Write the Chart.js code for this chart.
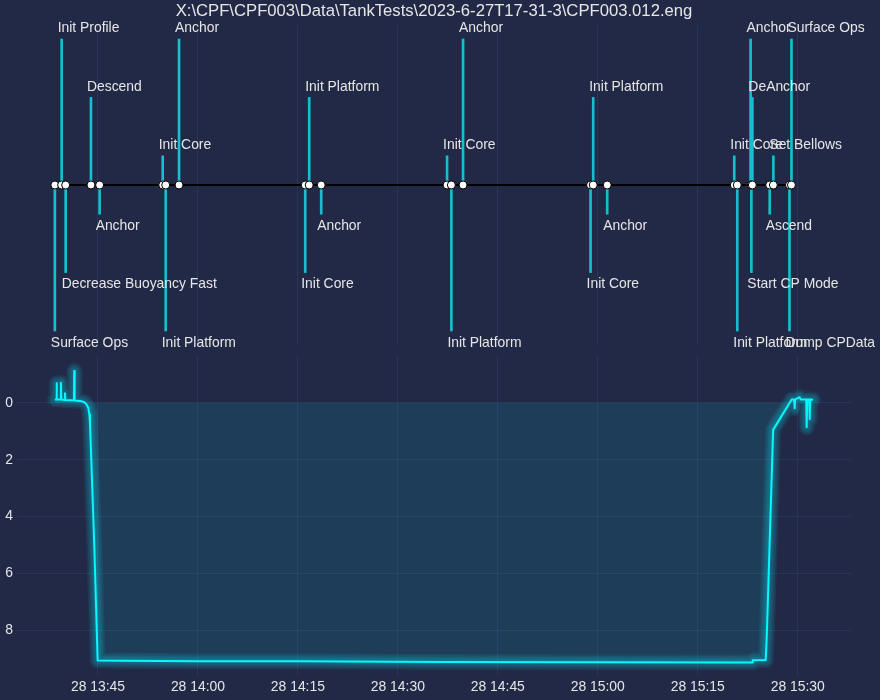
<!DOCTYPE html>
<html>
<head>
<meta charset="utf-8">
<script src="https://cdn.jsdelivr.net/npm/chart.js@4.4.1/dist/chart.umd.min.js"></script>
<style>
  html, body { margin: 0; padding: 0; background: #212946; }
  #wrap { position: relative; width: 880px; height: 700px; }
  canvas { position: absolute; left: 0; }
  #timeline { top: 0; }
  #depth { top: 350px; }
</style>
</head>
<body>
<div id="wrap">
  <canvas id="timeline" width="880" height="350"></canvas>
  <canvas id="depth" width="880" height="350"></canvas>
</div>
<script>
const title = "X:\\CPF\\CPF003\\Data\\TankTests\\2023-6-27T17-31-3\\CPF003.012.eng";
const dayLabel = "28";

// events on the timeline (2023-06-28)
const eventTimes = ["13:38:32", "13:39:33", "13:40:09", "13:43:57", "13:45:15", "13:54:43",
  "13:55:10", "13:57:10", "14:16:06", "14:16:42", "14:18:30", "14:37:23", "14:38:02",
  "14:39:47", "14:58:55", "14:59:19", "15:01:25", "15:20:29", "15:20:56", "15:22:56",
  "15:23:03", "15:23:12", "15:25:48", "15:26:21", "15:28:46", "15:29:04"];
const eventNames = ["Surface Ops", "Init Profile", "Decrease Buoyancy Fast", "Descend", "Anchor",
  "Init Core", "Init Platform", "Anchor", "Init Core", "Init Platform", "Anchor", "Init Core",
  "Init Platform", "Anchor", "Init Core", "Init Platform", "Anchor", "Init Core", "Init Platform",
  "Anchor", "Start CP Mode", "DeAnchor", "Ascend", "Set Bellows", "Dump CPData", "Surface Ops"];
const eventLevels = [-5, 5, -3, 3, -1, 1, -5, 5, -3, 3, -1, 1, -5, 5, -3, 3, -1, 1, -5, 5,
  -3, 3, -1, 1, -5, 5];

// depth record
const depthTimes = ["13:38:32", "13:38:46", "13:38:48", "13:38:50", "13:39:22", "13:39:26",
  "13:39:31", "13:39:58", "13:40:03", "13:40:07", "13:40:48", "13:41:24", "13:41:26",
  "13:41:30", "13:42:18", "13:42:54", "13:43:16", "13:43:33", "13:43:42", "13:43:48",
  "13:44:27", "13:44:57", "13:48:18", "14:00:19", "14:15:20", "14:36:22", "15:00:24",
  "15:21:26", "15:23:12", "15:23:15", "15:25:12", "15:25:21", "15:26:19", "15:29:06",
  "15:29:28", "15:29:33", "15:29:37", "15:30:18", "15:30:27", "15:31:17", "15:31:21",
  "15:31:26", "15:31:44", "15:31:48", "15:31:53", "15:32:18"];
const depthValues = [-0.12, -0.12, -0.69, -0.13, -0.12, -0.71,
  -0.12, -0.10, -0.34, -0.10, -0.09, -0.10, -1.12,
  -0.08, -0.07, -0.03, 0.05, 0.18, 0.40, 0.70,
  5.05, 9.07, 9.08, 9.10, 9.10, 9.12, 9.13,
  9.14, 9.14, 9.06, 9.05, 8.30, 0.95, -0.12,
  -0.12, 0.19, -0.12, -0.20, -0.12, -0.12, 0.86,
  -0.12, -0.12, 0.58, -0.12, -0.11];

const timeTicks = ["13:45", "14:00", "14:15", "14:30", "14:45", "15:00", "15:15", "15:30"];
const depthTicks = [0, 2, 4, 6, 8];

function toMin(s) {
  const p = s.split(":").map(Number);
  return p[0] * 60 + p[1] + (p[2] || 0) / 60;
}
function fmtTime(v) {
  const h = Math.floor(v / 60), m = Math.round(v - h * 60);
  return dayLabel + " " + String(h).padStart(2, "0") + ":" + String(m).padStart(2, "0");
}

const gridColor = "#2A3459";
const textColor = "#e6e6e6";
const cyan = "#08F7FE";
const stemColor = "#17becf";
const xMin = 812.85, xMax = 938.0;

Chart.defaults.font.family = '"Liberation Sans", Arial, sans-serif';
Chart.defaults.font.size = 13.9;
Chart.defaults.color = textColor;

const xTicks = timeTicks.map(toMin);

function noPad(s) {
  s.paddingTop = 0; s.paddingBottom = 0; s.paddingLeft = 0; s.paddingRight = 0;
}

function xScale(showLabels, height) {
  return {
    type: "linear",
    min: xMin,
    max: xMax,
    offset: false,
    border: { display: false },
    grid: { color: gridColor, drawTicks: false, offset: false },
    ticks: { display: showLabels, padding: 4, maxRotation: 0, autoSkip: false, callback: v => fmtTime(v) },
    afterBuildTicks: s => { s.ticks = xTicks.map(v => ({ value: v })); },
    afterFit: s => { s.height = height; noPad(s); }
  };
}

// labels next to the stem ends
const eventLabels = {
  id: "eventLabels",
  afterDatasetsDraw(chart) {
    const { ctx, scales } = chart;
    ctx.save();
    ctx.font = '13.9px "Liberation Sans", Arial, sans-serif';
    ctx.fillStyle = textColor;
    ctx.textAlign = "left";
    ctx.textBaseline = "alphabetic";
    eventNames.forEach((name, i) => {
      const x = scales.x.getPixelForValue(toMin(eventTimes[i]));
      const y = scales.y.getPixelForValue(eventLevels[i]);
      ctx.fillText(name, x - 4, eventLevels[i] > 0 ? y - 6.7 : y + 15.7);
    });
    ctx.restore();
  }
};

new Chart(document.getElementById("timeline"), {
  type: "line",
  data: {
    datasets: [
      {
        type: "line",
        data: eventTimes.map(t => ({ x: toMin(t), y: 0 })),
        borderColor: "#000",
        borderWidth: 2,
        pointRadius: 4,
        pointBackgroundColor: "#fff",
        pointBorderColor: "#000",
        pointBorderWidth: 1,
        order: 0
      },
      {
        type: "bar",
        data: eventTimes.map((t, i) => ({ x: toMin(t), y: [0, eventLevels[i]] })),
        backgroundColor: stemColor,
        barThickness: 2,
        order: 1
      }
    ]
  },
  options: {
    responsive: false,
    animation: false,
    layout: { padding: { left: 17, right: 29, top: 0, bottom: 5 } },
    scales: {
      x: xScale(false, 0),
      y: { type: "linear", min: -5.48, max: 5.48, display: false }
    },
    plugins: {
      legend: { display: false },
      tooltip: { enabled: false },
      title: {
        display: true,
        text: title,
        color: textColor,
        font: { size: 16.67, weight: "normal" },
        padding: { top: 1, bottom: 4 }
      }
    }
  },
  plugins: [eventLabels]
});

const depthPoints = depthTimes.map((t, i) => ({ x: toMin(t), y: depthValues[i] }));
const glowWidths = [16, 13, 10, 7, 4];

new Chart(document.getElementById("depth"), {
  type: "line",
  data: {
    datasets: [
      {
        data: depthPoints,
        borderColor: cyan,
        borderWidth: 2,
        borderJoinStyle: "round",
        pointRadius: 0,
        tension: 0,
        fill: { value: 0 },
        backgroundColor: "rgba(8,247,254,0.1)",
        order: 0
      },
      ...glowWidths.map((w, k) => ({
        data: depthPoints,
        borderColor: "rgba(8,247,254,0.075)",
        borderWidth: w,
        borderJoinStyle: "round",
        borderCapStyle: "round",
        pointRadius: 0,
        tension: 0,
        fill: false,
        order: k + 1
      }))
    ]
  },
  options: {
    responsive: false,
    animation: false,
    layout: { padding: { left: 0, right: 29, top: 6, bottom: 0 } },
    scales: {
      x: xScale(true, 25),
      y: {
        type: "linear",
        min: -1.65,
        max: 9.58,
        reverse: true,
        border: { display: false },
        grid: { color: gridColor, drawTicks: false },
        ticks: { padding: 4, callback: v => String(v) },
        afterBuildTicks: s => { s.ticks = depthTicks.map(v => ({ value: v })); },
        afterFit: s => { s.width = 17; noPad(s); }
      }
    },
    plugins: {
      legend: { display: false },
      tooltip: { enabled: false }
    }
  }
});
</script>
</body>
</html>
